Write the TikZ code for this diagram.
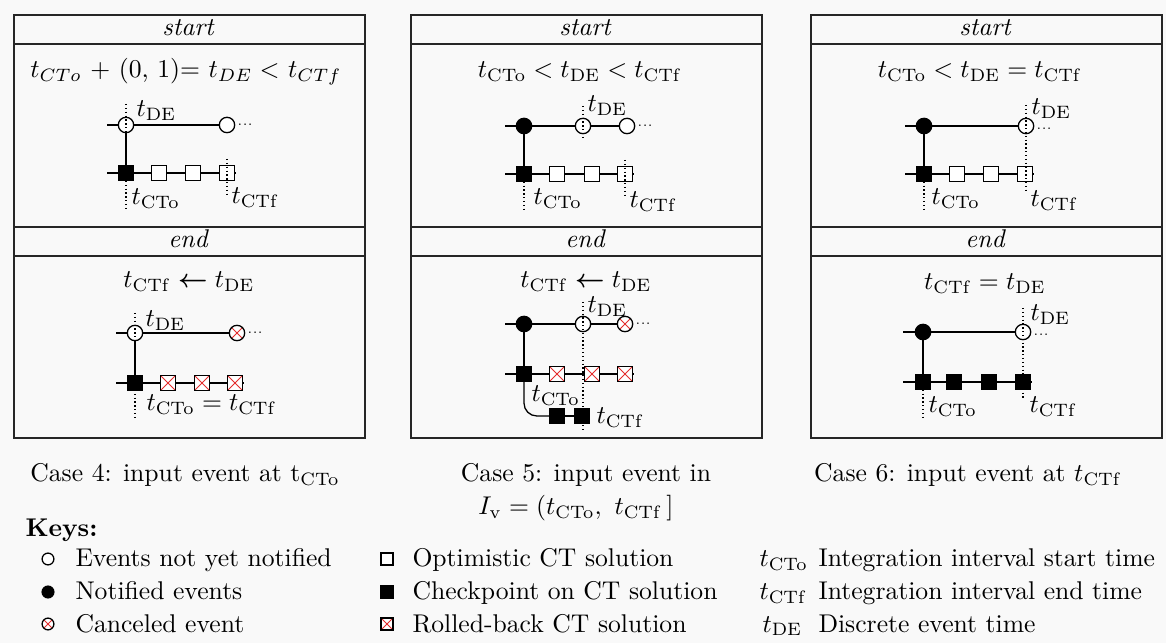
\documentclass[tikz,border=0pt]{standalone}
\usepackage{amsmath}
\definecolor{bgc}{RGB}{249,249,249}
\definecolor{xred}{RGB}{228,45,45}
\begin{document}
\begin{tikzpicture}[x=0.39pt,y=-0.39pt,
  panel/.style={draw=black!85, line width=0.5pt},
  tl/.style={line width=0.5pt},
  vdot/.style={densely dotted, line width=0.5pt},
  xmark/.style={path picture={\draw[xred, line width=0.4pt]
     (path picture bounding box.south west) -- (path picture bounding box.north east)
     (path picture bounding box.north west) -- (path picture bounding box.south east);}},
  evo/.style={circle, draw, line width=0.5pt, fill=white, minimum size=6pt, inner sep=0pt},
  evn/.style={evo, fill=black},
  evc/.style={evo, xmark},
  sqo/.style={rectangle, draw, line width=0.5pt, fill=white, minimum size=5.9pt, inner sep=0pt},
  sqf/.style={sqo, fill=black},
  sqx/.style={sqo, xmark},
  ksize/.style={minimum size=4.6pt},
  dots/.style={anchor=west, inner sep=0.6pt, font=\tiny},
  lbl/.style={anchor=base west, inner sep=0pt},
  fml/.style={anchor=base, inner sep=0pt},
  hdr/.style={anchor=base, inner sep=0pt, font=\itshape}]
\useasboundingbox[fill=bgc] (0,0) rectangle (1166,643);

% panels
\foreach \a/\b in {14/365,411/762,811/1162}{
  \draw[panel] (\a,15) rectangle (\b,44);
  \draw[panel] (\a,44) rectangle (\b,227);
  \draw[panel] (\a,227) rectangle (\b,256);
  \draw[panel] (\a,256) rectangle (\b,438);
}
\node[hdr] (h1s) at (188,36) {start};
\node[hdr] (h1e) at (188,248) {end};
\node[hdr] (h2s) at (585,36) {start};
\node[hdr] (h2e) at (585,248) {end};
\node[hdr] (h3s) at (985,36) {start};
\node[hdr] (h3e) at (985,248) {end};

% ---------- Panel 1 start
\node[fml] (f1s) at (186,78) {$t_{CTo}$ + (0, 1)$=$ $t_{DE}<$ $t_{CTf}$};
\coordinate (a1u) at (107,125);
\node[evo] (a1o1) at (126,125) {};
\node[evo] (a1o2) at (227,125) {};
\node[dots] (a1d) at (a1o2.east) {...};
\coordinate (a1l) at (107,173);
\node[sqf] (a1s1) at (126,173) {};
\node[sqo] (a1s2) at (159,173) {};
\node[sqo] (a1s3) at (193,173) {};
\node[sqo] (a1s4) at (227,173) {};
\coordinate (a1e) at (235,173);
\draw[tl] (a1u) -- (a1o1) -- (a1o2);
\draw[tl] (a1o1) -- (a1s1);
\draw[tl] (a1l) -- (a1s1) -- (a1s2) -- (a1s3) -- (a1s4) -- (a1e);
\draw[vdot] (a1o1.center) ++(0,-21) -- ++(0,106);
\draw[vdot] (a1s4.center) ++(0,-14) -- ++(0,35);
\node[lbl] (a1tde) at (136,117) {$t_{\mathrm{DE}}$};
\node[lbl] (a1tcto) at (131,205) {$t_{\mathrm{CTo}}$};
\node[lbl] (a1tctf) at (231,204) {$t_{\mathrm{CTf}}$};

% ---------- Panel 1 end
\node[fml] (f1e) at (189,288) {$t_{\mathrm{CTf}}\boldsymbol{\leftarrow} t_{\mathrm{DE}}$};
\coordinate (b1u) at (116,333);
\node[evo] (b1o1) at (135,333) {};
\node[evc] (b1c) at (237,333) {};
\node[dots] (b1d) at (b1c.east) {...};
\coordinate (b1l) at (116,383);
\node[sqf] (b1s1) at (135,383) {};
\node[sqx] (b1s2) at (168,383) {};
\node[sqx] (b1s3) at (202,383) {};
\node[sqx] (b1s4) at (235,383) {};
\coordinate (b1e) at (244,383);
\draw[tl] (b1u) -- (b1o1) -- (b1c);
\draw[tl] (b1o1) -- (b1s1);
\draw[tl] (b1l) -- (b1s1) -- (b1s2) -- (b1s3) -- (b1s4) -- (b1e);
\draw[vdot] (b1o1.center) ++(0,-20) -- ++(0,105);
\node[lbl] (b1tde) at (145,327) {$t_{\mathrm{DE}}$};
\node[lbl] (b1tct) at (146,411) {$t_{\mathrm{CTo}} = t_{\mathrm{CTf}}$};

% ---------- Panel 2 start
\node[fml] (f2s) at (580,78) {$t_{\mathrm{CTo}} < t_{\mathrm{DE}} < t_{\mathrm{CTf}}$};
\coordinate (a2u) at (505,126);
\node[evn] (a2f1) at (524,126) {};
\node[evo] (a2o1) at (583,126) {};
\node[evo] (a2o2) at (627,126) {};
\node[dots] (a2d) at (a2o2.east) {...};
\coordinate (a2l) at (505,174);
\node[sqf] (a2s1) at (524,174) {};
\node[sqo] (a2s2) at (557,174) {};
\node[sqo] (a2s3) at (592,174) {};
\node[sqo] (a2s4) at (625,174) {};
\coordinate (a2e) at (633,174);
\draw[tl] (a2u) -- (a2f1) -- (a2o1) -- (a2o2);
\draw[tl] (a2f1) -- (a2s1);
\draw[tl] (a2l) -- (a2s1) -- (a2s2) -- (a2s3) -- (a2s4) -- (a2e);
\draw[vdot] (a2o1.center) ++(0,-20) -- ++(0,34);
\draw[vdot] (a2s1.center) -- ++(0,36);
\draw[vdot] (a2s4.center) ++(0,-14) -- ++(0,35);
\node[lbl] (a2tde) at (587,112) {$t_{\mathrm{DE}}$};
\node[lbl] (a2tcto) at (533,205) {$t_{\mathrm{CTo}}$};
\node[lbl] (a2tctf) at (629,208) {$t_{\mathrm{CTf}}$};

% ---------- Panel 2 end
\node[fml] (f2e) at (586,288) {$t_{\mathrm{CTf}}\boldsymbol{\leftarrow} t_{\mathrm{DE}}$};
\coordinate (b2u) at (505,324);
\node[evn] (b2f1) at (524,324) {};
\node[evo] (b2o1) at (583,324) {};
\node[evc] (b2c) at (625,324) {};
\node[dots] (b2d) at (b2c.east) {...};
\coordinate (b2l) at (505,374);
\node[sqf] (b2s1) at (524,374) {};
\node[sqx] (b2s2) at (557,374) {};
\node[sqx] (b2s3) at (592,374) {};
\node[sqx] (b2s4) at (625,374) {};
\coordinate (b2e) at (633,374);
\node[sqf] (b2r1) at (557,416) {};
\node[sqf] (b2r2) at (582,416) {};
\draw[tl] (b2u) -- (b2f1) -- (b2o1) -- (b2c);
\draw[tl] (b2f1) -- (b2s1);
\draw[tl] (b2l) -- (b2s1) -- (b2s2) -- (b2s3) -- (b2s4) -- (b2e);
\draw[tl, rounded corners=5pt] (b2s1.south) |- (b2r1.west);
\draw[tl] (b2r1) -- (b2r2);
\draw[vdot] (b2o1.center) ++(0,-22) -- ++(0,128);
\node[lbl] (b2tde) at (587,313) {$t_{\mathrm{DE}}$};
\node[lbl] (b2tcto) at (531,402) {$t_{\mathrm{CTo}}$};
\node[lbl] (b2tctf) at (596,424) {$t_{\mathrm{CTf}}$};

% ---------- Panel 3 start
\node[fml] (f3s) at (980,78) {$t_{\mathrm{CTo}} < t_{\mathrm{DE}} = t_{\mathrm{CTf}}$};
\coordinate (a3u) at (905,126);
\node[evn] (a3f1) at (924,126) {};
\node[evo] (a3o1) at (1026,126) {};
\node[dots] (a3d) at ([yshift=-1pt]a3o1.east) {...};
\coordinate (a3l) at (905,174);
\node[sqf] (a3s1) at (924,174) {};
\node[sqo] (a3s2) at (957,174) {};
\node[sqo] (a3s3) at (991,174) {};
\node[sqo] (a3s4) at (1025,174) {};
\coordinate (a3e) at (1033,174);
\draw[tl] (a3u) -- (a3f1) -- (a3o1);
\draw[tl] (a3f1) -- (a3s1);
\draw[tl] (a3l) -- (a3s1) -- (a3s2) -- (a3s3) -- (a3s4) -- (a3e);
\draw[vdot] (a3o1.center) ++(0,-21) -- ++(0,88);
\draw[vdot] (a3s1.center) -- ++(0,36);
\node[lbl] (a3tde) at (1031,115) {$t_{\mathrm{DE}}$};
\node[lbl] (a3tcto) at (931,205) {$t_{\mathrm{CTo}}$};
\node[lbl] (a3tctf) at (1030,207) {$t_{\mathrm{CTf}}$};

% ---------- Panel 3 end
\node[fml] (f3e) at (985,290) {$t_{\mathrm{CTf}} = t_{\mathrm{DE}}$};
\coordinate (b3u) at (903,332);
\node[evn] (b3f1) at (923,332) {};
\node[evo] (b3o1) at (1023,332) {};
\node[dots] (b3d) at ([yshift=-1pt]b3o1.east) {...};
\coordinate (b3l) at (903,382);
\node[sqf] (b3s1) at (923,382) {};
\node[sqf] (b3s2) at (954,382) {};
\node[sqf] (b3s3) at (989,382) {};
\node[sqf] (b3s4) at (1023,382) {};
\coordinate (b3e) at (1032,382);
\draw[tl] (b3u) -- (b3f1) -- (b3o1);
\draw[tl] (b3f1) -- (b3s1);
\draw[tl] (b3l) -- (b3s1) -- (b3s2) -- (b3s3) -- (b3s4) -- (b3e);
\draw[vdot] (b3o1.center) ++(0,-24) -- ++(0,90);
\draw[vdot] (b3s1.center) -- ++(0,35);
\node[lbl] (b3tde) at (1030,321) {$t_{\mathrm{DE}}$};
\node[lbl] (b3tcto) at (928,413) {$t_{\mathrm{CTo}}$};
\node[lbl] (b3tctf) at (1029,413) {$t_{\mathrm{CTf}}$};

% ---------- Captions
\node[fml] (cap4) at (185,482) {Case 4: input event at t$_{\mathrm{CTo}}$};
\node[fml] (cap5a) at (586,482) {Case 5: input event in};
\node[fml] (cap5b) at (576,515) {$I_{\mathrm{v}} = (t_{\mathrm{CTo}},\ t_{\mathrm{CTf}}\,]$};
\node[fml] (cap6) at (968,482) {Case 6: input event at $t_{\mathrm{CTf}}$};

% ---------- Keys
\node[lbl] (keys) at (25,537) {\textbf{Keys:}};
\node[evo, ksize] (k1) at (48,559) {};
\node[evn, ksize] (k2) at (48,592) {};
\node[evc, ksize] (k3) at (48,624) {};
\node[lbl] (k1t) at (75,567) {Events not yet notified};
\node[lbl] (k2t) at (75,600) {Notified events};
\node[lbl] (k3t) at (75,632) {Canceled event};
\node[sqo, ksize] (k4) at (387,559) {};
\node[sqf, ksize] (k5) at (387,592) {};
\node[sqx, ksize] (k6) at (387,624) {};
\node[lbl] (k4t) at (412,567) {Optimistic CT solution};
\node[lbl] (k5t) at (412,600) {Checkpoint on CT solution};
\node[lbl] (k6t) at (412,632) {Rolled-back CT solution};
\node[lbl] (k7) at (759,567) {$t_{\mathrm{CTo}}$};
\node[lbl] (k8) at (759,600) {$t_{\mathrm{CTf}}$};
\node[lbl] (k9) at (762,632) {$t_{\mathrm{DE}}$};
\node[lbl] (k7t) at (818,567) {Integration interval start time};
\node[lbl] (k8t) at (818,600) {Integration interval end time};
\node[lbl] (k9t) at (818,632) {Discrete event time};
\end{tikzpicture}
\end{document}
